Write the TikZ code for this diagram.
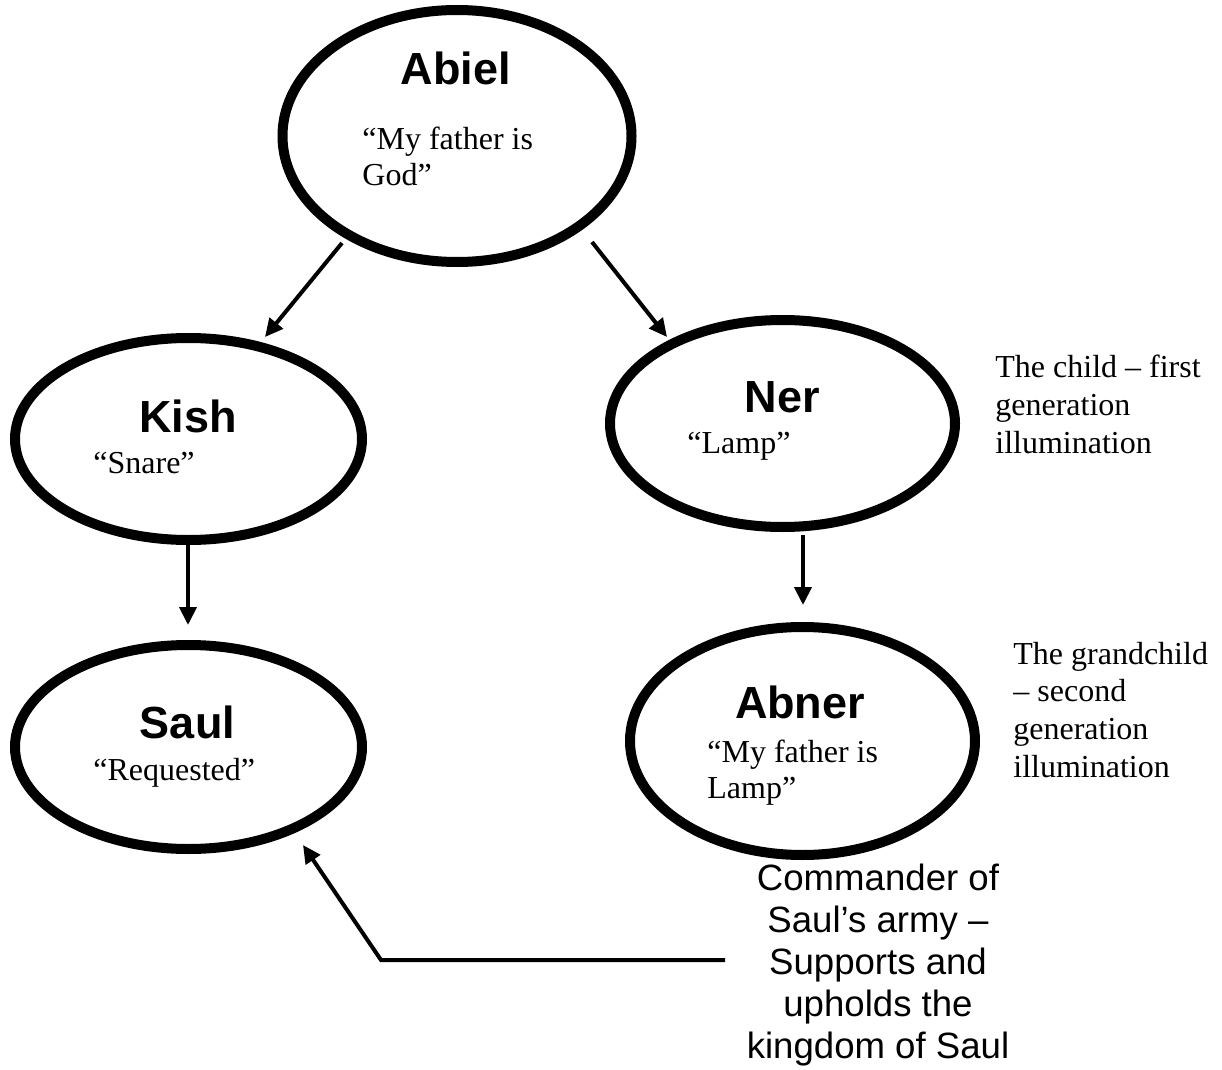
\documentclass[tikz,border=0pt]{standalone}
\usepackage{fontspec}
\setmainfont{Liberation Serif}
\setsansfont{Liberation Sans}
\usetikzlibrary{shapes.geometric,arrows.meta}
\tikzset{
  ell/.style={ellipse, draw, line width=5pt, inner sep=0pt},
  ttl/.style={font=\sffamily\bfseries\fontsize{22.5}{26}\selectfont, inner sep=0pt, anchor=base},
  sub/.style={font=\fontsize{16}{18}\selectfont, inner sep=0pt, anchor=base west, align=left},
  note/.style={font=\fontsize{16}{18.8}\selectfont, inner sep=0pt, anchor=base west, align=left},
  cmd/.style={font=\sffamily\fontsize{18.3}{21}\selectfont, inner sep=0pt, anchor=base, align=center},
  arr/.style={line width=2pt, -{Triangle[length=9pt,width=8.5pt]}}
}
\begin{document}
\begin{tikzpicture}[x=0.5pt,y=-0.5pt]
\path[use as bounding box] (0,0) rectangle (1222,1070);
% ellipses
\node[ell, minimum width=174.5pt, minimum height=126pt] (abiel) at (457,136) {};
\node[ell, minimum width=173.5pt, minimum height=101pt] (kish) at (188.5,439) {};
\node[ell, minimum width=172.5pt, minimum height=103.5pt] (ner) at (782.5,423.5) {};
\node[ell, minimum width=173.5pt, minimum height=102pt] (saul) at (188.5,747) {};
\node[ell, minimum width=172.5pt, minimum height=114pt] (abner) at (802.5,741) {};
% titles
\node[ttl] (abielT) at (456,85) {Abiel};
\node[ttl] (kishT) at (188,432) {Kish};
\node[ttl] (nerT) at (782.5,412) {Ner};
\node[ttl] (saulT) at (187.5,738) {Saul};
\node[ttl] (abnerT) at (800,718) {Abner};
% meanings (anchor at baseline of last line)
\node[sub] (abielM) at (362,185) {“My father is\\God”};
\node[sub] (kishM) at (93,473) {“Snare”};
\node[sub] (nerM) at (687,453) {“Lamp”};
\node[sub] (saulM) at (93,780) {“Requested”};
\node[sub] (abnerM) at (707,798) {“My father is\\Lamp”};
% notes
\node[note] (note1) at (995,453) {The child – first\\generation\\illumination};
\node[note] (note2) at (1013,777) {The grandchild\\– second\\generation\\illumination};
\node[cmd] (cmdr) at (878,1058) {Commander of\\Saul’s army –\\Supports and\\upholds the\\kingdom of Saul};
% arrow end points
\coordinate (ak1) at (342,243);
\coordinate (ak2) at (265,337);
\coordinate (an1) at (592,242);
\coordinate (an2) at (667,337);
\coordinate (ks1) at (188,545);
\coordinate (ks2) at (188,625);
\coordinate (nb1) at (803,535);
\coordinate (nb2) at (803,605);
\coordinate (c1) at (725,960);
\coordinate (c2) at (381,960);
\coordinate (c3) at (303,845);
\draw[arr] (ak1) -- (ak2);
\draw[arr] (an1) -- (an2);
\draw[arr] (ks1) -- (ks2);
\draw[arr] (nb1) -- (nb2);
\draw[arr] (c1) -- (c2) -- (c3);
\end{tikzpicture}
\end{document}
